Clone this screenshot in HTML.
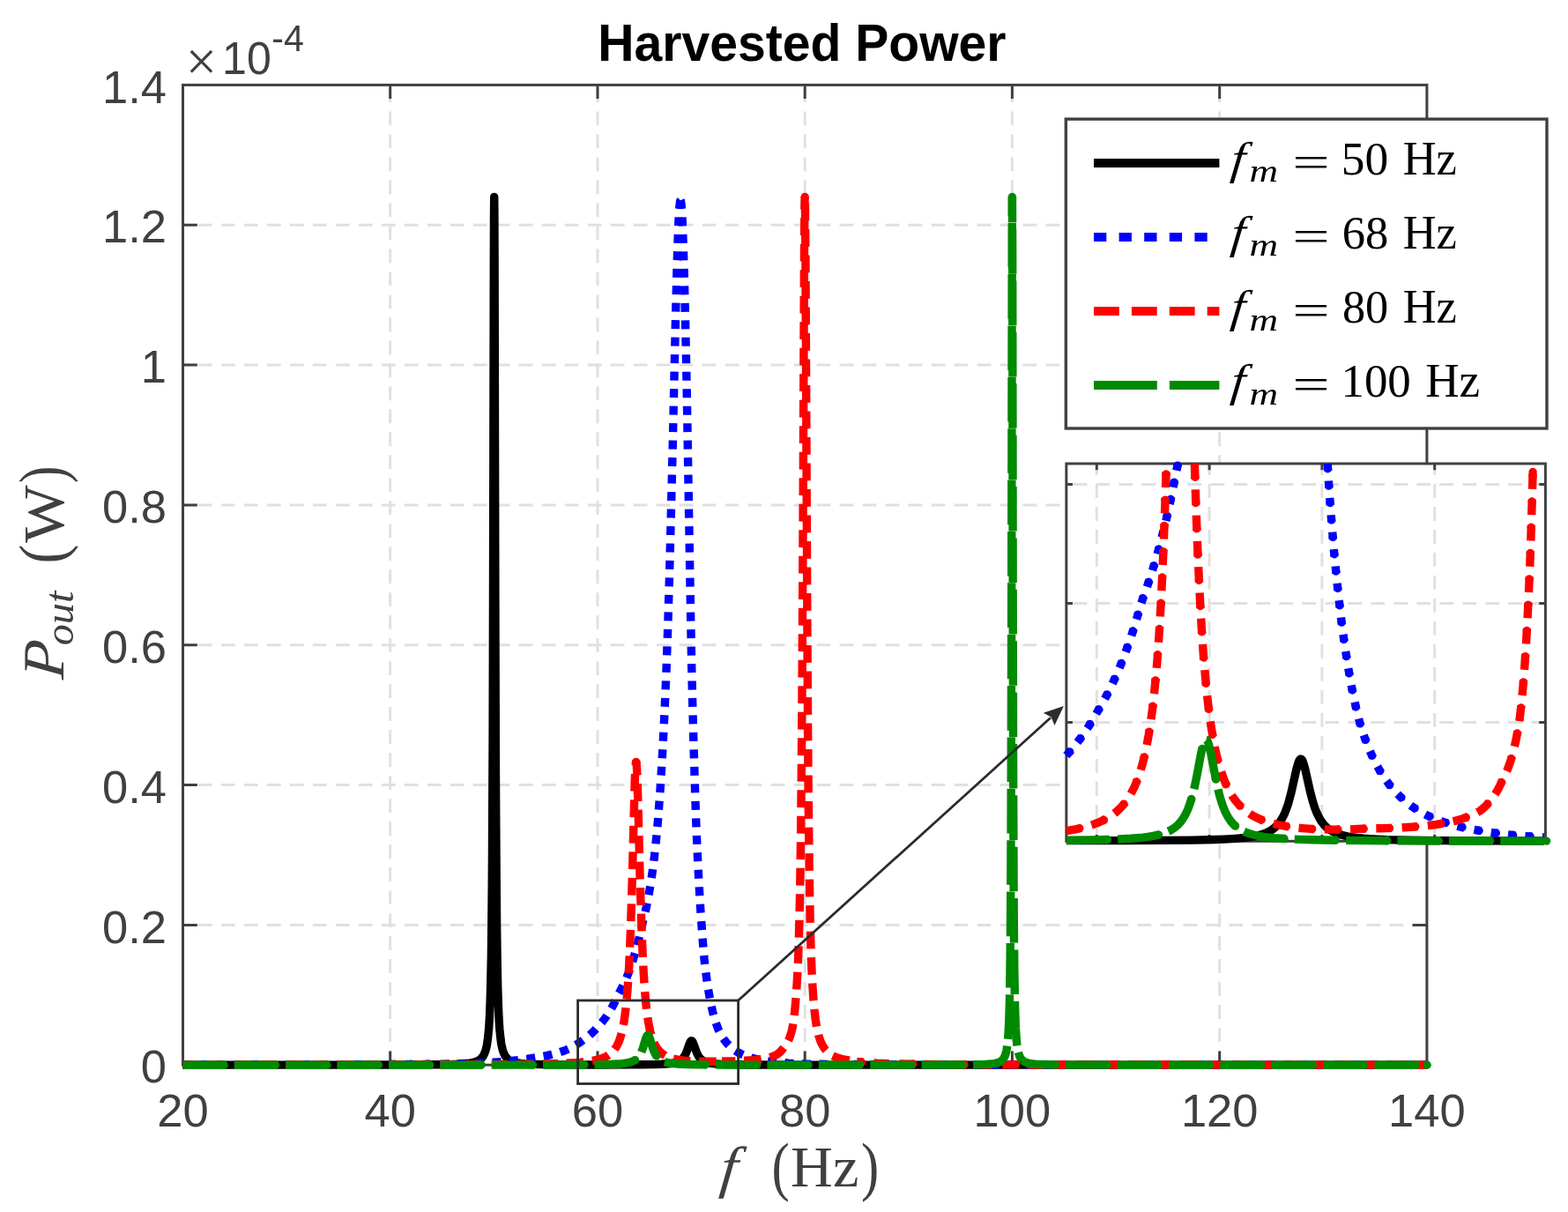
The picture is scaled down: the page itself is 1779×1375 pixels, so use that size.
<!DOCTYPE html>
<html lang="en"><head><meta charset="utf-8"><title>Harvested Power</title>
<style>html,body{margin:0;padding:0;background:#fff}body{width:1779px;height:1375px;overflow:hidden}svg{display:block}.t{font-family:"Liberation Sans",sans-serif;fill:#404040}.s{font-family:"Liberation Serif",serif}.i{font-style:italic}</style>
</head><body>
<svg width="1779" height="1375" viewBox="0 0 1779 1375" role="img" aria-label="Harvested power versus frequency">
<rect width="1779" height="1375" fill="#fff"/>
<g stroke="#e0e0e0" stroke-width="3" stroke-dasharray="15.8 10.19" fill="none">
<line x1="442.7" y1="96.4" x2="442.7" y2="1208.2" stroke-dashoffset="21.9"/>
<line x1="678.0" y1="96.4" x2="678.0" y2="1208.2" stroke-dashoffset="21.9"/>
<line x1="913.2" y1="96.4" x2="913.2" y2="1208.2" stroke-dashoffset="21.9"/>
<line x1="1148.4" y1="96.4" x2="1148.4" y2="1208.2" stroke-dashoffset="21.9"/>
<line x1="1383.7" y1="96.4" x2="1383.7" y2="1208.2" stroke-dashoffset="21.9"/>
<line x1="207.5" y1="1049.4" x2="1618.9" y2="1049.4" stroke-dashoffset="8.6"/>
<line x1="207.5" y1="890.5" x2="1618.9" y2="890.5" stroke-dashoffset="8.6"/>
<line x1="207.5" y1="731.7" x2="1618.9" y2="731.7" stroke-dashoffset="8.6"/>
<line x1="207.5" y1="572.9" x2="1618.9" y2="572.9" stroke-dashoffset="8.6"/>
<line x1="207.5" y1="414.1" x2="1618.9" y2="414.1" stroke-dashoffset="8.6"/>
<line x1="207.5" y1="255.2" x2="1618.9" y2="255.2" stroke-dashoffset="8.6"/>
</g>
<g stroke="#404040" stroke-width="3" fill="none">
<rect x="207.5" y="96.4" width="1411.4" height="1111.8"/>
<path d="M442.7 96.4v15.6M442.7 1208.2v-15.6M678.0 96.4v15.6M678.0 1208.2v-15.6M913.2 96.4v15.6M913.2 1208.2v-15.6M1148.4 96.4v15.6M1148.4 1208.2v-15.6M1383.7 96.4v15.6M1383.7 1208.2v-15.6M207.5 1049.4h16.4M1618.9 1049.4h-16.4M207.5 890.5h16.4M1618.9 890.5h-16.4M207.5 731.7h16.4M1618.9 731.7h-16.4M207.5 572.9h16.4M1618.9 572.9h-16.4M207.5 414.1h16.4M1618.9 414.1h-16.4M207.5 255.2h16.4M1618.9 255.2h-16.4"/>
</g>
<g fill="none" stroke-width="9.4" stroke-linejoin="round">
<path stroke="#000" d="M207.5 1208.2L379.2 1208.1L456.8 1208L496.8 1207.8L509.5 1207.6L518.4 1207.3L527.4 1206.7L532.9 1206.1L535.7 1205.6L538 1205.1L540 1204.5L541.5 1203.8L543 1203.1L544.2 1202.3L545.2 1201.5L546.2 1200.6L547 1199.7L547.7 1198.7L549 1196.6L549.5 1195.5L550.5 1193L551.3 1190.4L552.3 1186.1L552.8 1182.9L553.5 1177.8L554.1 1172.2L554.7 1166.2L555.5 1152.8L556.2 1135L556.8 1112L557.4 1082.7L557.8 1046.4L558.2 1006.5L558.5 959L559.1 835L559.5 666.3L560.3 295.9L560.5 240.9L560.7 223.4L560.9 240.9L561.1 293.2L561.9 681.7L562.4 864.7L562.8 936.3L563.2 998.1L563.6 1046.4L564.1 1086.1L564.7 1118L565.4 1140.3L565.8 1150.4L566.3 1159.7L566.9 1168.2L567.5 1174.1L568.1 1179.5L568.8 1184.5L569.8 1189L570.5 1191.7L571.4 1194.3L571.9 1195.5L573 1197.7L574.5 1199.8L575.2 1200.6L576.2 1201.5L577.2 1202.3L578.4 1203.1L579.8 1203.8L581.5 1204.5L583.4 1205.1L586.2 1205.7L590.9 1206.4L595.6 1206.9L600.3 1207.1L607.4 1207.4L621.5 1207.7L642.7 1207.9L677.5 1208L711.5 1207.9L729.2 1207.8L741.7 1207.6L750.9 1207.3L758 1206.8L760.9 1206.5L763.6 1206.1L765.9 1205.6L768 1205L769.7 1204.3L771.3 1203.4L772.8 1202.4L774 1201.4L775 1200.3L775.9 1199.2L776.8 1197.8L777.7 1196.2L778.5 1194.4L779.4 1192.2L781.9 1185L782.8 1182.9L783.2 1182L783.7 1181.3L784.1 1180.9L784.5 1180.8L785 1180.9L785.4 1181.3L785.8 1181.9L786.3 1182.9L787.1 1184.9L789.9 1192.8L790.9 1195.2L791.9 1197.2L793 1199L794.2 1200.5L795.4 1201.7L796.9 1202.9L798.7 1204L800.8 1204.9L803.2 1205.6L805.8 1206.1L809.2 1206.6L813.1 1207L817.3 1207.3L823 1207.5L835 1207.8L853.1 1208L920.3 1208.1L1618.9 1208.2"/>
<path stroke="#0000ff" stroke-dasharray="8.20 11.26" d="M207.5 1208.1L313.4 1208L391 1207.8L452.1 1207.5L501.5 1207.2"/><path stroke="#0000ff" stroke-linecap="round" stroke-dasharray="0.01 19.45" stroke-dashoffset="13.76" d="M207.5 1208.1L313.4 1208L391 1207.8L452.1 1207.5L501.5 1207.2"/>
<path stroke="#0000ff" stroke-dasharray="10.0 9.49" stroke-dashoffset="0.34" d="M772.1 227.4L771.8 227.7L771.6 228.5L771.2 231.5L770.7 236.3L770.2 244.2L769.3 265.5L768.2 297.6L766.6 357.1L763.3 502.9L761.3 583.9L759.4 656.8L757.5 718.1L756 761L754.7 792.4L753 828.2L751.1 863.6L748.9 898.5L747.6 915.7L746.3 932.7L744.8 949.4L743.5 961.8L742.2 974L740.8 985L739.2 995.9L737.5 1006.7L735.7 1017.2L734.3 1024.2L732.9 1031L731.4 1037.8L728.8 1047.8L727 1056.3L725 1064.8L722.7 1074L720.3 1082.2L716.3 1094.8L713.3 1103.3L710.9 1109.3L708.5 1114.7L706.2 1119.5L703.8 1124L701.5 1128L699.1 1133.4L696.8 1138.2L694.4 1142.7L691.7 1147.5L689.7 1150.5L687.4 1154L685 1157.2L682.7 1160.1L680.3 1162.8L675.6 1167.9L673.8 1169.8L670.9 1172.6L668.6 1174.6L666.2 1176.6L659.1 1181.8L654.4 1184.9L649.7 1187.6L645.9 1189.6L642.7 1191L640.3 1192L633.3 1194.3L626.2 1196.2L621.5 1197.3L616.8 1198.3L609 1199.7L598 1201.4L590.9 1202.3L581.2 1203.5L572.1 1204.3L560.4 1205.2L548.6 1205.8L534.5 1206.3L518 1206.8L501.5 1207.2"/>
<path stroke="#0000ff" stroke-dasharray="10.0 9.49" stroke-dashoffset="0.33" d="M772.1 227.4L772.2 227.6L772.3 227.8L772.6 228.8L773.1 232.7L773.6 239.1L774.1 248.1L775.1 273.6L776.3 311.9L777.6 364.9L779.1 437.3L783.5 691.9L784.8 760.5L785.2 777.7L787 845.9L788.9 906.7L789.8 933.5L790.9 959.6L791.6 974.8L792.8 998.3L794.1 1020.9L795.2 1038.2L797.5 1069.8L799 1087.5L800.2 1098.3L801.5 1108.4L802.8 1118L804.4 1127.2L805.4 1133.1L806.6 1138.9L808.4 1147.1L809.8 1152.3L811.2 1157.2L813.6 1164.3L815.3 1168.6L816.8 1171.6L818.1 1174.1L820.2 1177.5L821.5 1179.3L823.8 1182.3L825 1183.8L827.8 1186.7L830.9 1189.4L834.2 1191.9L837.9 1194.2L842.2 1196.4L845 1197.6L849.6 1199.3L854.4 1200.7L859.1 1201.8L866.2 1203.2L870.9 1203.9L877.9 1204.7L885.4 1205.4L894.4 1206.1L903.8 1206.6L913.2 1207L939.1 1207.4L974.4 1207.6L1019.1 1207.8L1077.9 1208L1254.3 1208.1L1618.9 1208.2"/>
<path stroke="#ff0000" stroke-dasharray="17.70 11.49" d="M207.5 1208.1L409.8 1208L522.7 1207.7L560.4 1207.6L590.9 1207.3L612.4 1207L630.9 1206.6"/><path stroke="#ff0000" stroke-linecap="round" stroke-dasharray="0.01 29.18" stroke-dashoffset="13.99" d="M207.5 1208.1L409.8 1208L522.7 1207.7L560.4 1207.6L590.9 1207.3L612.4 1207L630.9 1206.6"/>
<path stroke="#ff0000" stroke-dasharray="19.8 9.7" stroke-dashoffset="17.86" d="M630.9 1206.6L642.7 1206.1L652.1 1205.6L659.1 1205.1L666.2 1204.3L672.9 1203.3L678 1202.2L682.1 1201L683.5 1200.5L686.1 1199.4L688.4 1198.3L689.7 1197.5L691.3 1196.4L693 1195.1L695.3 1193L696.6 1191.5L697.7 1189.9L698.8 1188.3L699.8 1186.6L701.6 1183L702.4 1181.1L703.5 1178.2L705 1173L706.4 1167.4L707.8 1160.2L708.9 1152.5L710 1144.4L711 1134.4L711.9 1123.8L712.8 1111.2L713.7 1096.3L715 1067L716.3 1029.4L717.5 990.5L719.5 912.7L720.2 887.8L720.6 877.4L721 870L721.4 865.8L721.5 864.8L721.7 864.4"/>
<path stroke="#ff0000" stroke-dasharray="19.8 9.7" stroke-dashoffset="4.57" d="M721.7 864.4L721.9 864.8L722.1 865.8L722.4 870L722.8 876.7L723.2 886.9L723.9 911.4L726 992.2L727.2 1031.1L728.5 1068.6L729.9 1097.9L730.8 1112.6L731.7 1125.2L732.6 1135.6L733.6 1145.6L734.7 1153.6L735.9 1161.2L737.3 1168.3L738.7 1173.8L740.3 1178.9L741.4 1181.8L742.3 1183.6L744.1 1187.1L745.1 1188.8L746.3 1190.3L747.5 1191.8L748.9 1193.3L750.4 1194.6L752.1 1195.9L755 1197.7L757 1198.7L759.4 1199.6L761.7 1200.4L763.9 1201.1L768.8 1202.1L771.1 1202.5L775.6 1203.1L781.7 1203.7L789.9 1204.1L799.2 1204.3L808.8 1204.3L819.1 1204"/>
<path stroke="#ff0000" stroke-dasharray="19.8 9.7" stroke-dashoffset="4.49" d="M819.1 1204L833.2 1203.8L845 1203.3L854.4 1202.7L861.4 1202L865.5 1201.3L869.2 1200.6L872.4 1199.9L875.6 1199L877.9 1198.1L879.5 1197.3L881.7 1196.1L883.3 1194.9L885 1193.5L886.2 1192.3L887.3 1191.1L891.5 1185.6L892.3 1184.4L893.8 1181.8L895.1 1179.1L896.2 1176.3L897.2 1173.3L898.1 1170.2L898.5 1168.6L899.3 1164.7L900 1160.6L900.9 1154L902.2 1142.1L902.8 1134.5L903.6 1124.1L904.4 1111.3L905.4 1092L906.2 1071L906.8 1048.5L907.4 1024.2L908 988.6L908.6 946.3L909.4 868.5L910.1 770.2L910.9 627L912.4 300L912.8 241.8L913 228L913.2 223.2"/>
<path stroke="#ff0000" stroke-dasharray="19.8 9.7" stroke-dashoffset="22.11" d="M913.2 223.2L913.4 227.3L913.5 238.9L913.9 286.4L915.9 711.7L916.6 824.5L917.3 911.4L918.2 986.4L919.1 1041.4L919.7 1064.8L920.4 1086.5L921.1 1103.8L922 1119.9L923 1134.6L924 1146L925.2 1156.4L926.4 1164.1L927.1 1167.7L927.9 1171.1L928.7 1174.4L929.7 1177.6L930.7 1180.6L931.9 1183.4L933.3 1186.1L934.1 1187.4L934.9 1188.7L936.7 1191.1L937.8 1192.3L939.1 1193.6L941.4 1195.6L943.1 1196.7L944.7 1197.7L946.6 1198.6L948.8 1199.5L950.8 1200.2L953.2 1200.9L955.5 1201.5L965 1203.5L972 1204.5"/>
<path stroke="#ff0000" stroke-dasharray="17.70 11.49" stroke-dashoffset="9.84" d="M972 1204.5L979.1 1205.2L986.1 1205.7L995.5 1206.3L1007.3 1206.7L1021.4 1207L1037.9 1207.3L1080.2 1207.7L1141.4 1207.9L1233.1 1208L1618.9 1208.2"/><path stroke="#ff0000" stroke-linecap="round" stroke-dasharray="0.01 29.18" stroke-dashoffset="23.83" d="M972 1204.5L979.1 1205.2L986.1 1205.7L995.5 1206.3L1007.3 1206.7L1021.4 1207L1037.9 1207.3L1080.2 1207.7L1141.4 1207.9L1233.1 1208L1618.9 1208.2"/>
<path stroke="#008a00" stroke-dasharray="47.60 10.78" d="M207.5 1208.2L520.4 1208.2L628.6 1208.1L657.5 1208L678 1207.8L691.2 1207.5L701.2 1207L705.4 1206.7L709.3 1206.2L712.4 1205.7L715.2 1205L717.4 1204.2L719.5 1203.3L721.3 1202.1L723 1200.7L724.3 1199.3L725.4 1197.7L726.4 1196L727.5 1194L728.4 1191.7L729.5 1188.8L732.3 1179.4L733.2 1176.9L733.7 1175.7L734.1 1174.9L734.6 1174.5L735 1174.3L735.5 1174.5L735.9 1174.9L736.4 1175.8L736.9 1177L737.8 1179.6L740.4 1188.5L741.4 1191.3L742.4 1193.6L743.4 1195.7L744.4 1197.4L745.4 1198.8L746.6 1200.2L748 1201.5L749.7 1202.8L751.5 1203.8L753.8 1204.7L756.4 1205.4L759.1 1205.9L762.5 1206.4L766.2 1206.8L772.1 1207.2L780.5 1207.5L790.9 1207.8L803.8 1207.9L845 1208.1L927.3 1208.1L1037.9 1208.1L1087.3 1208L1101.4 1207.9L1110.8 1207.7L1117.9 1207.4L1124.9 1206.9"/><path stroke="#008a00" stroke-linecap="round" stroke-dasharray="0.01 58.37" stroke-dashoffset="11.68" d="M207.5 1208.2L520.4 1208.2L628.6 1208.1L657.5 1208L678 1207.8L691.2 1207.5L701.2 1207L705.4 1206.7L709.3 1206.2L712.4 1205.7L715.2 1205L717.4 1204.2L719.5 1203.3L721.3 1202.1L723 1200.7L724.3 1199.3L725.4 1197.7L726.4 1196L727.5 1194L728.4 1191.7L729.5 1188.8L732.3 1179.4L733.2 1176.9L733.7 1175.7L734.1 1174.9L734.6 1174.5L735 1174.3L735.5 1174.5L735.9 1174.9L736.4 1175.8L736.9 1177L737.8 1179.6L740.4 1188.5L741.4 1191.3L742.4 1193.6L743.4 1195.7L744.4 1197.4L745.4 1198.8L746.6 1200.2L748 1201.5L749.7 1202.8L751.5 1203.8L753.8 1204.7L756.4 1205.4L759.1 1205.9L762.5 1206.4L766.2 1206.8L772.1 1207.2L780.5 1207.5L790.9 1207.8L803.8 1207.9L845 1208.1L927.3 1208.1L1037.9 1208.1L1087.3 1208L1101.4 1207.9L1110.8 1207.7L1117.9 1207.4L1124.9 1206.9"/>
<path stroke="#008a00" stroke-dasharray="50.6 7.78" stroke-dashoffset="20.16" d="M1124.9 1206.9L1127.6 1206.6L1129.6 1206.2L1131.9 1205.6L1133.4 1205.1L1134.3 1204.7L1135.8 1203.8L1136.7 1203.1L1137.5 1202.3L1138.8 1200.6L1139.8 1198.7L1140.3 1197.7L1141 1195.5L1141.9 1191.8L1142.6 1187.6L1143.2 1182.9L1143.8 1176L1144.3 1168.2L1144.7 1159.7L1145.4 1137.7L1145.9 1105.8L1146.4 1061.4L1146.8 1002.4L1147.1 927L1147.6 722.9L1148.2 285.5L1148.3 238.3L1148.4 223.5"/>
<path stroke="#008a00" stroke-dasharray="50.6 7.78" stroke-dashoffset="21.75" d="M1148.4 223.5L1148.5 239.5L1148.7 290.6L1149.2 692L1149.6 879.4L1150.1 1010.7L1150.4 1057.7L1150.8 1096.2L1151.3 1126.7L1151.8 1150.4L1152.4 1166.2L1152.9 1174.1L1153.3 1179.5L1153.8 1184.5L1154.4 1189L1155.2 1193.1L1155.8 1195.5L1156.6 1197.7L1157 1198.7L1157.8 1200.3L1158.7 1201.5L1159.4 1202.3L1160.2 1203.1"/>
<path stroke="#008a00" stroke-dasharray="47.60 10.78" stroke-dashoffset="8.57" d="M1160.2 1203.1L1161.1 1203.8L1162.2 1204.5L1163.5 1205.1L1165 1205.6L1166.9 1206.1L1169.6 1206.6L1174.3 1207.1L1179 1207.4L1186.1 1207.7L1197.8 1207.9L1223.7 1208.1L1275.5 1208.2L1618.9 1208.2"/><path stroke="#008a00" stroke-linecap="round" stroke-dasharray="0.01 58.37" stroke-dashoffset="20.25" d="M1160.2 1203.1L1161.1 1203.8L1162.2 1204.5L1163.5 1205.1L1165 1205.6L1166.9 1206.1L1169.6 1206.6L1174.3 1207.1L1179 1207.4L1186.1 1207.7L1197.8 1207.9L1223.7 1208.1L1275.5 1208.2L1618.9 1208.2"/>
</g>
<circle cx="913.2" cy="223.5" r="4.7" fill="#ff0000"/>
<circle cx="721.7" cy="864.4" r="4.7" fill="#ff0000"/>
<circle cx="1148.4" cy="223.5" r="4.7" fill="#008a00"/>
<circle cx="772.3" cy="232.3" r="4.9" fill="#0000ff"/>
<circle cx="1619.1" cy="1208.2" r="4.7" fill="#008a00"/>
<g class="t" font-size="52.5">
<text x="207.5" y="1277.6" text-anchor="middle">20</text>
<text x="442.7" y="1277.6" text-anchor="middle">40</text>
<text x="678.0" y="1277.6" text-anchor="middle">60</text>
<text x="913.2" y="1277.6" text-anchor="middle">80</text>
<text x="1148.4" y="1277.6" text-anchor="middle">100</text>
<text x="1383.7" y="1277.6" text-anchor="middle">120</text>
<text x="1618.9" y="1277.6" text-anchor="middle">140</text>
<text x="189" y="1228.3" text-anchor="end">0</text>
<text x="189" y="1069.5" text-anchor="end">0.2</text>
<text x="189" y="910.6" text-anchor="end">0.4</text>
<text x="189" y="751.8" text-anchor="end">0.6</text>
<text x="189" y="593.0" text-anchor="end">0.8</text>
<text x="189" y="434.2" text-anchor="end">1</text>
<text x="189" y="275.3" text-anchor="end">1.2</text>
<text x="189" y="116.5" text-anchor="end">1.4</text>
<text transform="matrix(1.0003 0 -0.0000 1.0000 210.68 91.20)" font-size="62.7" font-family="Liberation Serif,serif">×</text>
<text transform="matrix(0.9543 0 -0.0000 1.0000 252.04 83.80)" font-size="52.5">10</text>
<text transform="matrix(0.9672 0 -0.0000 1.0000 308.35 57.80)" font-size="42.5">-4</text>
</g>
<text transform="matrix(0.9765 0 -0.0000 1.0000 678.19 69.30)" font-size="58.5" font-family="Liberation Sans,sans-serif" font-weight="bold" fill="#000">Harvested Power</text>
<g class="s" fill="#404040">
<text transform="matrix(1.0689 0 -0.1000 1.0000 815.77 1346.10)" font-size="65.1" class="i">f</text>
<text transform="matrix(0.8315 0 -0.0000 1.0000 875.46 1347.60)" font-size="73.1">(</text>
<text transform="matrix(1.0033 0 -0.0000 1.0000 897.11 1346.10)" font-size="66.0">Hz</text>
<text transform="matrix(0.8313 0 -0.0000 1.0000 976.98 1347.60)" font-size="73.1">)</text>
<g transform="translate(71.7 0) rotate(-90)">
<text transform="matrix(1.0657 0 -0.0900 1.0000 -771.25 0.00)" font-size="66.6" class="i">P</text>
<text transform="matrix(1.0169 0 -0.0000 1.0000 -732.35 10.90)" font-size="47.5" class="i">out</text>
<text transform="matrix(0.8959 0 -0.0000 1.0000 -639.45 1.50)" font-size="73.1">(</text>
<text transform="matrix(1.0430 0 -0.0000 1.0000 -615.80 0.00)" font-size="66.5">W</text>
<text transform="matrix(0.8050 0 -0.0000 1.0000 -548.27 1.50)" font-size="73.1">)</text>
</g>
</g>
<rect x="1209.3" y="135.1" width="545.7" height="350.9" fill="#fff" stroke="#404040" stroke-width="3.4"/>
<line x1="1241" y1="184.9" x2="1383.4" y2="184.9" stroke="#000000" stroke-width="10"/>
<g class="s" fill="#000">
<text transform="matrix(1.1107 0 -0.1000 1.0000 1395.61 196.80)" font-size="51.6" class="i">f</text>
<text transform="matrix(1.2709 0 -0.0000 1.0000 1417.62 206.40)" font-size="35.5" class="i">m</text>
<text transform="matrix(1.5054 0 -0.0000 1.0000 1466.24 201.20)" font-size="50.0">=</text>
<text transform="matrix(1.0008 0 -0.0000 1.0000 1521.79 197.70)" font-size="53.4">50</text>
<text transform="matrix(0.9674 0 -0.0000 1.0000 1591.73 197.70)" font-size="54.2">Hz</text>
</g>
<line x1="1241" y1="268.9" x2="1383.4" y2="268.9" stroke="#0000ff" stroke-width="10" stroke-dasharray="14.3 14.3"/>
<g class="s" fill="#000">
<text transform="matrix(1.1107 0 -0.1000 1.0000 1395.61 280.85)" font-size="51.6" class="i">f</text>
<text transform="matrix(1.2709 0 -0.0000 1.0000 1417.62 290.45)" font-size="35.5" class="i">m</text>
<text transform="matrix(1.5054 0 -0.0000 1.0000 1466.24 285.25)" font-size="50.0">=</text>
<text transform="matrix(0.9844 0 -0.0000 1.0000 1522.63 281.75)" font-size="53.4">68</text>
<text transform="matrix(0.9674 0 -0.0000 1.0000 1591.73 281.75)" font-size="54.2">Hz</text>
</g>
<line x1="1241" y1="353.0" x2="1383.4" y2="353.0" stroke="#ff0000" stroke-width="10" stroke-dasharray="28.8 14.1"/>
<g class="s" fill="#000">
<text transform="matrix(1.1107 0 -0.1000 1.0000 1395.61 364.90)" font-size="51.6" class="i">f</text>
<text transform="matrix(1.2709 0 -0.0000 1.0000 1417.62 374.50)" font-size="35.5" class="i">m</text>
<text transform="matrix(1.5054 0 -0.0000 1.0000 1466.24 369.30)" font-size="50.0">=</text>
<text transform="matrix(0.9791 0 -0.0000 1.0000 1522.91 365.80)" font-size="53.4">80</text>
<text transform="matrix(0.9674 0 -0.0000 1.0000 1591.73 365.80)" font-size="54.2">Hz</text>
</g>
<line x1="1241" y1="437.0" x2="1383.4" y2="437.0" stroke="#008a00" stroke-width="10" stroke-dasharray="71.8 14.1"/>
<g class="s" fill="#000">
<text transform="matrix(1.1107 0 -0.1000 1.0000 1395.61 448.95)" font-size="51.6" class="i">f</text>
<text transform="matrix(1.2709 0 -0.0000 1.0000 1417.62 458.55)" font-size="35.5" class="i">m</text>
<text transform="matrix(1.5054 0 -0.0000 1.0000 1466.24 453.35)" font-size="50.0">=</text>
<text transform="matrix(0.9910 0 -0.0000 1.0000 1521.44 449.85)" font-size="53.4">100</text>
<text transform="matrix(0.9807 0 -0.0000 1.0000 1617.21 449.85)" font-size="54.2">Hz</text>
</g>
<rect x="1209.85" y="526.0" width="543.55" height="428.3" fill="#fff"/>
<g stroke="#e0e0e0" stroke-width="3" stroke-dasharray="15.8 10.19" fill="none">
<line x1="1244.3" y1="526.0" x2="1244.3" y2="954.3" stroke-dashoffset="2.9"/>
<line x1="1372.1" y1="526.0" x2="1372.1" y2="954.3" stroke-dashoffset="2.9"/>
<line x1="1499.9" y1="526.0" x2="1499.9" y2="954.3" stroke-dashoffset="2.9"/>
<line x1="1627.7" y1="526.0" x2="1627.7" y2="954.3" stroke-dashoffset="2.9"/>
<line x1="1209.8" y1="819.4" x2="1753.4" y2="819.4" stroke-dashoffset="18.3"/>
<line x1="1209.8" y1="684.5" x2="1753.4" y2="684.5" stroke-dashoffset="18.3"/>
<line x1="1209.8" y1="549.6" x2="1753.4" y2="549.6" stroke-dashoffset="18.3"/>
</g>
<g stroke="#404040" stroke-width="3" fill="none">
<rect x="1209.85" y="526.0" width="543.55" height="428.3"/>
<path d="M1244.3 526.0v7.2M1244.3 954.3v-7.2M1372.1 526.0v7.2M1372.1 954.3v-7.2M1499.9 526.0v7.2M1499.9 954.3v-7.2M1627.7 526.0v7.2M1627.7 954.3v-7.2M1209.8 819.4h7.2M1753.4 819.4h-7.2M1209.8 684.5h7.2M1753.4 684.5h-7.2M1209.8 549.6h7.2M1753.4 549.6h-7.2"/>
</g>
<g fill="none" stroke-width="9.4" stroke-linejoin="round">
<path stroke="#000000" d="M1209.8 953.5L1266.1 953.6L1317.2 953.4L1353 953.1L1378.5 952.5L1388.8 952.1L1397.7 951.6L1404.6 951.1L1412.1 950.4L1418.2 949.6L1423.3 948.7L1428.6 947.5L1433 946.2L1436.7 944.8L1440.4 943L1443.6 941L1446.7 938.5L1449.4 935.9L1451.6 933.1L1453.9 929.8L1456.1 925.8L1458 921.7L1459.6 917.5L1461.3 912.7L1462.8 907.3L1465.3 897.7L1470.4 874.9L1471.5 870.4L1472.4 867.2L1473.3 864.5L1474.2 862.6L1475 861.5L1475.4 861.2L1475.9 861.1L1476.3 861.2L1476.7 861.5L1477.6 862.6L1478.4 864.5L1479.3 867.2L1480.2 870.4L1481.3 874.9L1486.4 897.7L1488.9 907.3L1490.5 912.7L1492.1 917.5L1493.8 921.7L1495.7 925.8L1497.9 929.8L1500.1 933.1L1502.4 935.9L1505 938.6L1508.1 941L1511.3 943L1515 944.8L1518.7 946.2L1523.1 947.5L1528.4 948.8L1533.5 949.6L1539.6 950.4L1547.2 951.2L1554.1 951.7L1562.6 952.1L1572.8 952.6L1598.4 953.2L1634.1 953.6L1683.4 953.9L1751.7 954"/>
<path stroke="#0000ff" stroke-dasharray="8.20 11.26" d="M1209.8 857.1L1215 851.3L1220.1 845.1L1225.3 838.4L1230.3 831.3L1235.4 823.6L1240.5 815.3L1250.7 797.8L1255.9 788.3L1260.3 779.5L1266.1 767.1L1271.2 755.1L1276.3 742L1281.4 727.9L1286 714.2L1291.3 696.5L1296.4 679.5L1301.1 666.5L1305.6 653.2L1309.8 639.8L1313.8 626.1L1317.5 612.2L1321.1 598.1L1324.5 583.7L1327.7 569.2L1330.7 554.4L1336.4 526M1506.2 526L1507.3 544.4L1508.1 557.4L1510.8 592.6L1513.6 626.4L1516.6 656.9L1519 679.2L1522.5 709.1L1525.1 728.3L1526.5 737.5L1529.3 755.5L1532.3 772.8L1535.5 789.3L1539 805L1540.8 812.6L1542.8 819.9L1544.7 826.3L1547.2 833.8L1548.9 838.5L1552.4 847.3L1555.9 855.7L1557.5 859L1561.1 866.4L1563.9 871.5L1566.8 876.5L1569.9 881.3L1573.1 885.9L1576.5 890.5L1580 894.8L1583.8 899L1587.8 903L1592 906.9L1596.4 910.7L1601.2 914.3L1603.5 915.9L1608.6 919.2L1613.7 922.1L1618.8 924.8L1623.9 927.2L1629 929.4L1634.1 931.3L1639.3 933.1L1645 934.9L1653.3 937.2L1659.7 938.7L1664.8 939.9L1672.3 941.3L1680.2 942.7L1695.1 944.9L1710.8 946.8L1721 947.8L1731.3 948.6L1751.7 950"/><path stroke="#0000ff" stroke-linecap="round" stroke-dasharray="0.01 19.45" stroke-dashoffset="13.76" d="M1209.8 857.1L1215 851.3L1220.1 845.1L1225.3 838.4L1230.3 831.3L1235.4 823.6L1240.5 815.3L1250.7 797.8L1255.9 788.3L1260.3 779.5L1266.1 767.1L1271.2 755.1L1276.3 742L1281.4 727.9L1286 714.2L1291.3 696.5L1296.4 679.5L1301.1 666.5L1305.6 653.2L1309.8 639.8L1313.8 626.1L1317.5 612.2L1321.1 598.1L1324.5 583.7L1327.7 569.2L1330.7 554.4L1336.4 526M1506.2 526L1507.3 544.4L1508.1 557.4L1510.8 592.6L1513.6 626.4L1516.6 656.9L1519 679.2L1522.5 709.1L1525.1 728.3L1526.5 737.5L1529.3 755.5L1532.3 772.8L1535.5 789.3L1539 805L1540.8 812.6L1542.8 819.9L1544.7 826.3L1547.2 833.8L1548.9 838.5L1552.4 847.3L1555.9 855.7L1557.5 859L1561.1 866.4L1563.9 871.5L1566.8 876.5L1569.9 881.3L1573.1 885.9L1576.5 890.5L1580 894.8L1583.8 899L1587.8 903L1592 906.9L1596.4 910.7L1601.2 914.3L1603.5 915.9L1608.6 919.2L1613.7 922.1L1618.8 924.8L1623.9 927.2L1629 929.4L1634.1 931.3L1639.3 933.1L1645 934.9L1653.3 937.2L1659.7 938.7L1664.8 939.9L1672.3 941.3L1680.2 942.7L1695.1 944.9L1710.8 946.8L1721 947.8L1731.3 948.6L1751.7 950"/>
<path stroke="#ff0000" stroke-dasharray="17.70 11.60" d="M1209.8 942.7L1220.1 940.8L1228.1 939L1235.4 937L1242.2 934.7L1246.2 933.1L1249.9 931.5L1253.2 929.8L1255.9 928.4L1259.3 926.3L1262 924.5L1264.6 922.5L1267 920.6L1269.2 918.5L1271.4 916.4L1273.4 914.3L1276.3 910.7L1278.7 907.5L1280.3 905.1L1281.9 902.6L1284.7 897.5L1287.3 892.2L1288.5 889.5L1290.7 883.9L1293.8 875L1296.5 865.6L1299 855.8L1301.1 845.4L1303.1 834.6L1305.5 819.5L1307.6 803.6L1309.5 787L1311.2 769.6L1312.8 751.5L1314.2 732.7L1315.8 708.4L1317.2 683.3L1318.5 657L1319.7 630.1L1321 596.9L1322.2 562.8L1323.4 526M1355.4 526L1356.7 568.1L1357.9 602L1359.3 635.1L1360.8 667L1362.4 697.8L1363.9 722.5L1365.6 746.2L1367.6 768.9L1369.7 790.4L1371.7 806.9L1373.8 822.5L1376.3 837.4L1378.5 849L1379.8 854.8L1381.4 861.3L1383.1 867.7L1385 873.9L1388 882.6L1390.3 888.2L1391.5 890.9L1393.9 895.8L1395.4 898.7L1398.4 903.6L1400 905.9L1401.7 908.2L1404.1 911.1L1407.4 914.7L1409.2 916.4L1411.8 918.7L1414.3 920.7L1416.7 922.4L1419.4 924.2L1422.4 925.9L1425.5 927.5L1428.9 929.1L1432.6 930.6L1436.5 932L1440.8 933.4L1445 934.5L1450.1 935.7L1455.2 936.7L1460.3 937.6L1465.4 938.3L1470.6 939L1477.5 939.6L1491 940.6L1501.2 940.9L1516.6 941.1L1531.9 940.9L1552.4 939.9L1567.7 939.7L1577.9 939.4L1593.2 938.7L1604 938L1618.8 936.7L1629 935.5L1639.3 933.8L1644.4 932.8L1649.5 931.6L1654.6 930.2L1659.7 928.7L1666.9 926L1669.9 924.8L1675 922.3L1678.2 920.5L1680.2 919.1L1682.8 916.9L1685.3 914.7L1686.9 913L1690.6 908.9L1693.9 904.7L1695.5 902.4L1696.9 900.2L1699.6 895.5L1702.1 890.6L1704.4 885.5L1706.5 881.6L1708.4 877.5L1710.2 873.3L1711.8 869L1713.4 864.6L1714.8 860.1L1716.1 855.4L1717.4 850.7L1719.7 840.9L1721 834.3L1722.7 825.3L1723.6 819.9L1724.4 813.5L1726 799.7L1728.1 777.8L1729.9 754.5L1731.5 729.9L1733.4 695L1735.4 651.7L1736.7 616.2L1738.2 569.2L1739.1 535.5"/><path stroke="#ff0000" stroke-linecap="round" stroke-dasharray="0.01 29.29" stroke-dashoffset="14.10" d="M1209.8 942.7L1220.1 940.8L1228.1 939L1235.4 937L1242.2 934.7L1246.2 933.1L1249.9 931.5L1253.2 929.8L1255.9 928.4L1259.3 926.3L1262 924.5L1264.6 922.5L1267 920.6L1269.2 918.5L1271.4 916.4L1273.4 914.3L1276.3 910.7L1278.7 907.5L1280.3 905.1L1281.9 902.6L1284.7 897.5L1287.3 892.2L1288.5 889.5L1290.7 883.9L1293.8 875L1296.5 865.6L1299 855.8L1301.1 845.4L1303.1 834.6L1305.5 819.5L1307.6 803.6L1309.5 787L1311.2 769.6L1312.8 751.5L1314.2 732.7L1315.8 708.4L1317.2 683.3L1318.5 657L1319.7 630.1L1321 596.9L1322.2 562.8L1323.4 526M1355.4 526L1356.7 568.1L1357.9 602L1359.3 635.1L1360.8 667L1362.4 697.8L1363.9 722.5L1365.6 746.2L1367.6 768.9L1369.7 790.4L1371.7 806.9L1373.8 822.5L1376.3 837.4L1378.5 849L1379.8 854.8L1381.4 861.3L1383.1 867.7L1385 873.9L1388 882.6L1390.3 888.2L1391.5 890.9L1393.9 895.8L1395.4 898.7L1398.4 903.6L1400 905.9L1401.7 908.2L1404.1 911.1L1407.4 914.7L1409.2 916.4L1411.8 918.7L1414.3 920.7L1416.7 922.4L1419.4 924.2L1422.4 925.9L1425.5 927.5L1428.9 929.1L1432.6 930.6L1436.5 932L1440.8 933.4L1445 934.5L1450.1 935.7L1455.2 936.7L1460.3 937.6L1465.4 938.3L1470.6 939L1477.5 939.6L1491 940.6L1501.2 940.9L1516.6 941.1L1531.9 940.9L1552.4 939.9L1567.7 939.7L1577.9 939.4L1593.2 938.7L1604 938L1618.8 936.7L1629 935.5L1639.3 933.8L1644.4 932.8L1649.5 931.6L1654.6 930.2L1659.7 928.7L1666.9 926L1669.9 924.8L1675 922.3L1678.2 920.5L1680.2 919.1L1682.8 916.9L1685.3 914.7L1686.9 913L1690.6 908.9L1693.9 904.7L1695.5 902.4L1696.9 900.2L1699.6 895.5L1702.1 890.6L1704.4 885.5L1706.5 881.6L1708.4 877.5L1710.2 873.3L1711.8 869L1713.4 864.6L1714.8 860.1L1716.1 855.4L1717.4 850.7L1719.7 840.9L1721 834.3L1722.7 825.3L1723.6 819.9L1724.4 813.5L1726 799.7L1728.1 777.8L1729.9 754.5L1731.5 729.9L1733.4 695L1735.4 651.7L1736.7 616.2L1738.2 569.2L1739.1 535.5"/>
<path stroke="#008a00" stroke-dasharray="47.60 10.78" d="M1209.8 953.4L1240.5 952.9L1265.5 952.2L1282.5 951.3L1290.2 950.7L1296.8 950.1L1302.3 949.4L1308.5 948.4L1313.7 947.2L1318.1 946L1322.3 944.6L1325.9 943L1329.4 941.2L1332.4 939.2L1335 937.1L1337.3 934.9L1339.7 932.1L1341.9 929.2L1344 925.7L1346 921.9L1347.7 918.1L1349.4 913.5L1351 908.9L1352.4 904.1L1353.8 898.7L1355.3 892.7L1357.9 880.3L1362.5 855.7L1364.4 847.2L1365.4 843.7L1366.4 841.1L1366.9 840.2L1367.4 839.6L1367.8 839.2L1368.3 839.1L1368.7 839.2L1369.1 839.5L1369.5 840L1370 840.8L1370.9 843L1371.9 846.3L1372.9 850.6L1374.1 856.1L1379.6 884.9L1381 891.5L1382.4 897.5L1384.3 904.7L1386.1 910.6L1388.2 916.4L1390.3 921.4L1392.8 926.2L1395.4 930.2L1396.8 932.1L1398.4 934L1400.1 935.8L1401.6 937.1L1403.6 938.8L1405.3 940L1407.1 941.2L1409.2 942.3L1411.4 943.4L1413.8 944.4L1418.4 946L1424.1 947.5L1429.7 948.6L1436 949.6L1445 950.6L1454.1 951.3L1463.5 951.9L1475.7 952.4L1490.1 952.8L1526.7 953.4L1572.8 953.7L1644.4 954L1751.7 954.1"/><path stroke="#008a00" stroke-linecap="round" stroke-dasharray="0.01 58.37" stroke-dashoffset="11.68" d="M1209.8 953.4L1240.5 952.9L1265.5 952.2L1282.5 951.3L1290.2 950.7L1296.8 950.1L1302.3 949.4L1308.5 948.4L1313.7 947.2L1318.1 946L1322.3 944.6L1325.9 943L1329.4 941.2L1332.4 939.2L1335 937.1L1337.3 934.9L1339.7 932.1L1341.9 929.2L1344 925.7L1346 921.9L1347.7 918.1L1349.4 913.5L1351 908.9L1352.4 904.1L1353.8 898.7L1355.3 892.7L1357.9 880.3L1362.5 855.7L1364.4 847.2L1365.4 843.7L1366.4 841.1L1366.9 840.2L1367.4 839.6L1367.8 839.2L1368.3 839.1L1368.7 839.2L1369.1 839.5L1369.5 840L1370 840.8L1370.9 843L1371.9 846.3L1372.9 850.6L1374.1 856.1L1379.6 884.9L1381 891.5L1382.4 897.5L1384.3 904.7L1386.1 910.6L1388.2 916.4L1390.3 921.4L1392.8 926.2L1395.4 930.2L1396.8 932.1L1398.4 934L1400.1 935.8L1401.6 937.1L1403.6 938.8L1405.3 940L1407.1 941.2L1409.2 942.3L1411.4 943.4L1413.8 944.4L1418.4 946L1424.1 947.5L1429.7 948.6L1436 949.6L1445 950.6L1454.1 951.3L1463.5 951.9L1475.7 952.4L1490.1 952.8L1526.7 953.4L1572.8 953.7L1644.4 954L1751.7 954.1"/>
</g>
<circle cx="1754.6" cy="954.1" r="4.7" fill="#008a00"/>
<circle cx="1739.1" cy="535.5" r="4.7" fill="#ff0000"/>
<g stroke="#2b2b2b" stroke-width="2.8" fill="none">
<rect x="655.6" y="1135" width="182" height="94.5"/>
<line x1="837.6" y1="1135" x2="1192" y2="814.2"/>
</g>
<path d="M1206.9 800.9L1183.8 808.8L1192.6 813.6L1196.5 823.1Z" fill="#2b2b2b"/>
</svg></body></html>
